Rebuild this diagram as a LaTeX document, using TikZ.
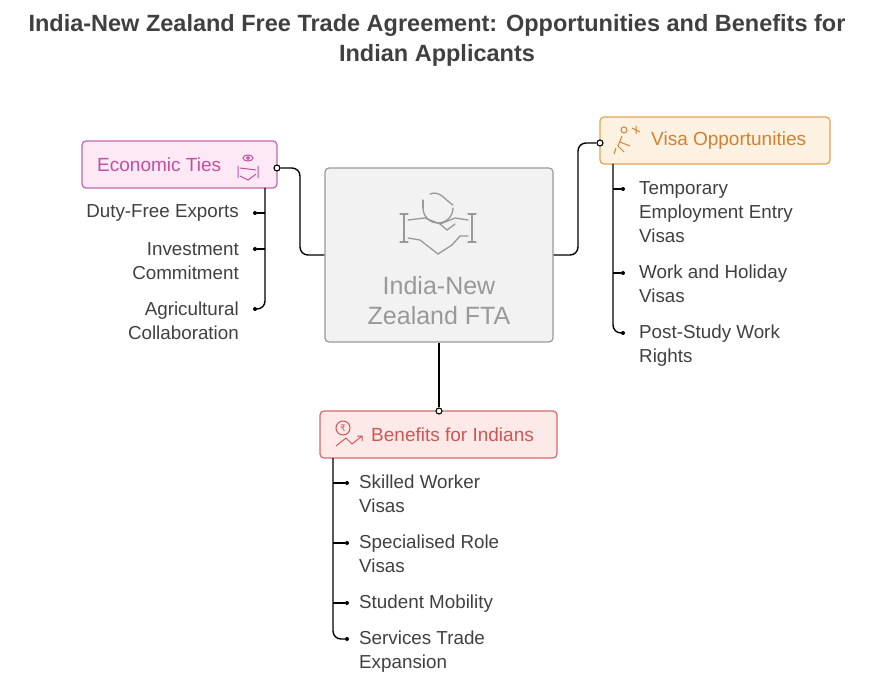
\documentclass[tikz,border=0pt]{standalone}
\usepackage{fontspec}
\setmainfont{Liberation Sans}
\newfontfamily\djv{DejaVu Sans}
\begin{document}
\begin{tikzpicture}[x=1pt,y=-1pt,
  body/.style={font=\fontsize{18.8}{24}\selectfont,text=black!75,inner sep=0pt},
  lab/.style={font=\fontsize{19}{20}\selectfont,anchor=west,inner sep=0pt},
  conn/.style={line width=1.4pt,rounded corners=8pt},
  box/.style={rounded corners=4pt,line width=1.2pt,inner sep=0pt},
  odot/.style={circle,draw=black,fill=white,line width=1.1pt,minimum size=6pt,inner sep=0pt},
  bdot/.style={circle,fill=black,minimum size=4pt,inner sep=0pt}]
\definecolor{pinkf}{HTML}{FDE8F6}\definecolor{pinkd}{HTML}{C565AC}\definecolor{pinkt}{HTML}{C2509F}
\definecolor{orf}{HTML}{FDF1E1}\definecolor{ord}{HTML}{E3A456}\definecolor{ort}{HTML}{D3812F}
\definecolor{redf}{HTML}{FDE9E7}\definecolor{redd}{HTML}{D26B6B}\definecolor{redt}{HTML}{D25555}
\useasboundingbox (0,0) rectangle (879,679);
\node[font=\bfseries\fontsize{23.5}{30}\selectfont,text=black!75,align=center] (title) at (437,40) {India-New Zealand Free Trade Agreement: Opportunities and Benefits for\\Indian Applicants};
% center
\node[box,draw=black!40,fill=black!5,minimum width=228pt,minimum height=174pt] (c) at (439,255) {};
\node[font=\fontsize{25}{30}\selectfont,text=black!40,align=center] (ct) at (439,301) {India-New\\Zealand FTA};
\begin{scope}[draw=black!40,line width=1.3pt,line cap=round]
 \draw (423,208) arc (180:0:15) ;
 \draw (423,208) -- (423,200);
 \draw (430,194) .. controls (440,190) and (445,200) .. (453,205);
 \draw (404,214)--(404,242) (400,214)--(408,214) (400,242)--(408,242);
 \draw (472,214)--(472,242) (468,214)--(476,214) (468,242)--(476,242);
 \draw (408,220) -- (425,218) -- (440,224) -- (455,218) -- (468,220);
 \draw (408,238) -- (420,240) -- (438,254) -- (452,245) -- (460,236) -- (468,236);
 \draw (440,224) -- (447,230) -- (455,224);
\end{scope}
% economic ties
\node[box,draw=pinkd,fill=pinkf,minimum width=195pt,minimum height=47pt] (e) at (179.5,164.5) {};
\node[lab,text=pinkt] (et) at (97,164.5) {Economic Ties};
\begin{scope}[draw=pinkt,line width=1pt]
 \draw (248,158) ellipse (5pt and 3pt); \draw (248,158) circle (1.3pt);
 \draw (238,166)--(238,178) (258,166)--(258,178) (240,168)--(256,170) (240,176)--(248,180)--(256,174);
\end{scope}
\node[odot] (eo) at (277,168) {};
\draw[conn] (eo) -- (300,168) -- (300,255) -- (c.west);
\coordinate (el) at (265,188);
\draw[conn] (el) -- (265,309) -- (255,309);
\node[bdot] (e1) at (255,213) {}; \draw[line width=1.4pt] (e1) -- (265,213);
\node[bdot] (e2) at (255,249) {}; \draw[line width=1.4pt] (e2) -- (265,249);
\node[bdot] (e3) at (255,309) {};
\node[body,anchor=east] (l1) at (239,213) {Duty-Free Exports};
\node[body,anchor=east,align=right] (l2) at (239,261) {Investment\\Commitment};
\node[body,anchor=east,align=right] (l3) at (239,321) {Agricultural\\Collaboration};
% visa
\node[box,draw=ord,fill=orf,minimum width=230pt,minimum height=47pt] (v) at (715,140.5) {};
\node[lab,text=ort] (vt) at (651,140.5) {Visa Opportunities};
\begin{scope}[draw=ort,line width=1pt]
 \draw (624,130) circle (3pt); \draw (622,136)--(618,146)--(624,152) (620,142)--(630,146) (616,148)--(614,154);
 \draw (632,128)--(640,132) (636,126)--(636,134);
\end{scope}
\node[odot] (vo) at (600,143) {};
\draw[conn] (c.east) -- (578,255) -- (578,143) -- (vo);
\coordinate (vl) at (613,164);
\draw[conn] (vl) -- (613,333) -- (623,333);
\node[bdot] (v1) at (623,189) {}; \draw[line width=1.4pt] (v1) -- (613,189);
\node[bdot] (v2) at (623,273) {}; \draw[line width=1.4pt] (v2) -- (613,273);
\node[bdot] (v3) at (623,333) {};
\node[body,anchor=north west,align=left] (r1) at (639,181) {Temporary\\Employment Entry\\Visas};
\node[body,anchor=north west,align=left] (r2) at (639,265) {Work and Holiday\\Visas};
\node[body,anchor=north west,align=left] (r3) at (639,325) {Post-Study Work\\Rights};
% benefits
\node[box,draw=redd,fill=redf,minimum width=237pt,minimum height=47pt] (b) at (438.5,434.5) {};
\node[lab,text=redt] (bt) at (371,434.5) {Benefits for Indians};
\begin{scope}[draw=redt,line width=1pt]
 \draw (343,428) circle (7pt);
 \node[text=redt,font=\djv\fontsize{9}{9}\selectfont] at (343,428) {₹};
 \draw (336,446)--(346,438)--(352,444)--(362,436) (357,436)--(362,436)--(362,441);
\end{scope}
\node[odot] (bo) at (439,411) {};
\draw[line width=1.4pt] (c.south) -- (bo);
\coordinate (bl) at (333,458);
\draw[conn] (bl) -- (333,639) -- (347,639);
\node[bdot] (b1) at (347,483) {}; \draw[line width=1.4pt] (b1) -- (333,483);
\node[bdot] (b2) at (347,543) {}; \draw[line width=1.4pt] (b2) -- (333,543);
\node[bdot] (b3) at (347,603) {}; \draw[line width=1.4pt] (b3) -- (333,603);
\node[bdot] (b4) at (347,639) {};
\node[body,anchor=north west,align=left] (d1) at (359,475) {Skilled Worker\\Visas};
\node[body,anchor=north west,align=left] (d2) at (359,535) {Specialised Role\\Visas};
\node[body,anchor=north west,align=left] (d3) at (359,595) {Student Mobility};
\node[body,anchor=north west,align=left] (d4) at (359,631) {Services Trade\\Expansion};
\end{tikzpicture}
\end{document}
